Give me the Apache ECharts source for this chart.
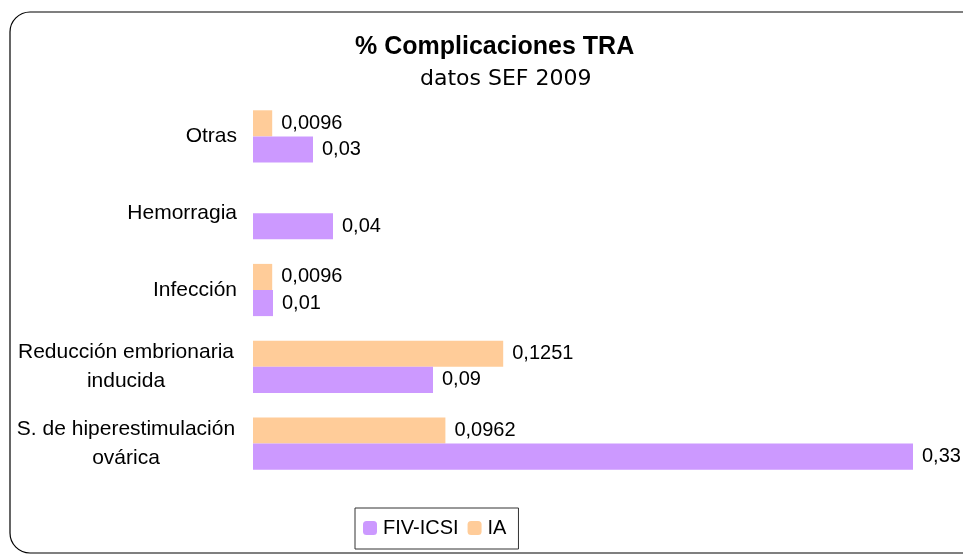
<!DOCTYPE html>
<html>
<head>
<meta charset="utf-8">
<script src="https://cdn.jsdelivr.net/npm/echarts@6/dist/echarts.min.js"></script>
<style>
  html, body { margin: 0; padding: 0; background: #fff; }
  #chart { width: 963px; height: 555px; }
</style>
</head>
<body>
<div id="chart"></div>
<script>
const categories = [
  'S. de hiperestimulación\novárica',
  'Reducción embrionaria\ninducida',
  'Infección',
  'Hemorragia',
  'Otras'
];
const fivIcsi = [0.33, 0.09, 0.01, 0.04, 0.03];
const ia = [0.0962, 0.1251, 0.0096, null, 0.0096];

var chartDom = document.getElementById('chart');
var myChart = echarts.init(chartDom);

const FONT = 'Liberation Sans, Arial, sans-serif';

// decimal comma like the original
const fmt = p => String(p.value).replace('.', ',');
const labelStyle = {
  show: true,
  position: 'right',
  distance: 9,
  formatter: fmt,
  fontFamily: FONT,
  fontSize: 20,
  color: '#000'
};

var option = {
  animation: false,
  graphic: [
    {
      type: 'rect',
      shape: { x: 10, y: 12, width: 975, height: 541, r: 20 },
      style: { fill: 'none', stroke: '#000', lineWidth: 1.2 },
      silent: true
    }
  ],
  // two titles so each line sits where it does in the original
  title: [
    {
      text: '% Complicaciones TRA',
      left: 350,
      top: 30,
      textStyle: {
        fontFamily: FONT,
        fontSize: 25,
        fontWeight: 'bold',
        color: '#000'
      }
    },
    {
      text: 'datos SEF 2009',
      left: 415,
      top: 63,
      textStyle: {
        fontFamily: 'DejaVu Sans, sans-serif',
        fontSize: 22,
        fontWeight: 'normal',
        color: '#000'
      }
    }
  ],
  legend: {
    data: ['FIV-ICSI', 'IA'],
    top: 508,
    left: 355,
    itemWidth: 14,
    itemHeight: 14,
    itemGap: 9,
    padding: [10, 12, 11, 8],
    borderColor: '#333',
    borderWidth: 1,
    textStyle: {
      fontFamily: FONT,
      fontSize: 20,
      color: '#000',
      padding: [0, 0, 0, 1]
    }
  },
  grid: {
    left: 253,
    right: 30,
    top: 98,
    bottom: 73,
    containLabel: false
  },
  xAxis: {
    type: 'value',
    min: 0,
    max: 0.34,
    show: false
  },
  yAxis: {
    type: 'category',
    data: categories,
    axisLine: { show: false },
    axisTick: { show: false },
    axisLabel: {
      margin: 16,
      align: 'right',
      fontFamily: FONT,
      fontSize: 21,
      lineHeight: 29,
      color: '#000',
      formatter: v => v.indexOf('\n') < 0 ? v :
        v.split('\n').map(s => '{c|' + s + '}').join('\n'),
      rich: {
        c: {
          width: 222,
          align: 'center',
          fontFamily: FONT,
          fontSize: 21,
          lineHeight: 29,
          color: '#000'
        }
      }
    }
  },
  series: [
    {
      name: 'IA',
      type: 'bar',
      data: ia,
      barGap: '0%',
      barCategoryGap: '32%',
      itemStyle: { color: '#FFCC99' },
      label: labelStyle
    },
    {
      name: 'FIV-ICSI',
      type: 'bar',
      data: fivIcsi,
      itemStyle: { color: '#CC99FF' },
      label: labelStyle
    }
  ]
};
option && myChart.setOption(option);
</script>
</body>
</html>
